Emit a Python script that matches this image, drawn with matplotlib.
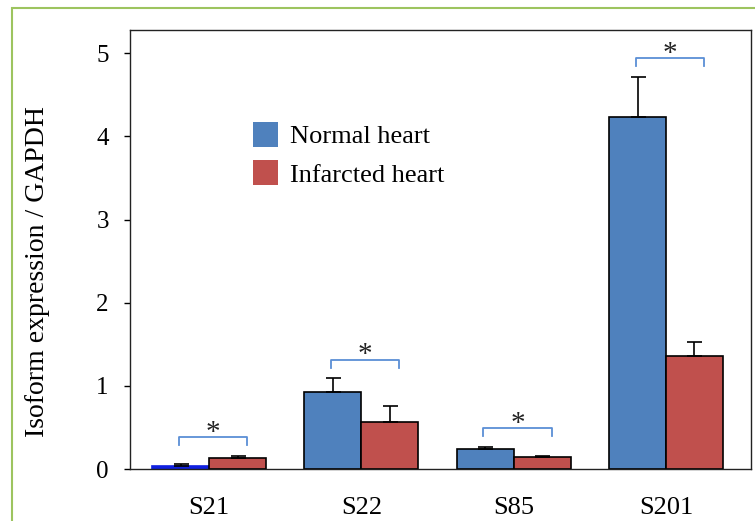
import matplotlib
matplotlib.use("Agg")
import matplotlib.pyplot as plt
import matplotlib.patches as mpatches
import numpy as np

plt.rcParams['font.family'] = ['Liberation Serif', 'DejaVu Serif']

# data
isoforms = ['S21', 'S22', 'S85', 'S201']
normal = [0.04, 0.93, 0.24, 4.23]
normal_err = [0.02, 0.16, 0.03, 0.49]
infarcted = [0.13, 0.56, 0.14, 1.36]
infarcted_err = [0.03, 0.20, 0.02, 0.17]
series_names = ['Normal heart', 'Infarcted heart']
yticks = [0, 1, 2, 3, 4, 5]

blue = '#4F81BD'
red = '#C0504D'
fs = 19

fig = plt.figure(figsize=(7.55, 5.21), dpi=100)
ax = fig.add_axes([130/755, 52/521, 621/755, 439/521])

x = np.arange(len(isoforms))
w = 0.374
ekw = dict(ecolor='black', elinewidth=1.2, capsize=5.4, capthick=1.2)
b1 = ax.bar(x - w/2, normal, w, color=blue, edgecolor='black', linewidth=1.2,
            yerr=[np.zeros(len(normal)), normal_err], error_kw=ekw, zorder=2)
b2 = ax.bar(x + w/2, infarcted, w, color=red, edgecolor='black', linewidth=1.2,
            yerr=[np.zeros(len(infarcted)), infarcted_err], error_kw=ekw, zorder=2)
# the tiny S21 normal bar shows up as a bright blue sliver
b1[0].set_edgecolor('#1020E0')
b1[0].set_facecolor('#1020E0')

# significance brackets
for i in range(len(isoforms)):
    top = max(normal[i] + normal_err[i], infarcted[i] + infarcted_err[i]) + 0.22
    xl, xr = x[i] - 0.2, x[i] + 0.25
    ax.plot([xl, xl, xr, xr], [top - 0.09, top, top, top - 0.09], color='#5B8FD6',
            linewidth=1.3, zorder=3, clip_on=False)
    ax.text((xl + xr) / 2, top - 0.1, '*', ha='center', va='bottom', fontsize=21,
            color='#222222')

ax.set_xlim(-0.519, 3.558)
ax.set_ylim(0, 5.28)
ax.set_yticks(yticks)
ax.set_xticks(x)
ax.set_xticklabels(isoforms, fontsize=fs)
ax.tick_params(axis='x', length=0, pad=20)
ax.tick_params(axis='y', direction='out', length=4.3, width=1.0, labelsize=18, pad=11)
for s in ax.spines.values():
    s.set_linewidth(1.0)
    s.set_color('#222222')

ax.set_ylabel('Isoform expression / GAPDH', fontsize=20)
ax.yaxis.set_label_coords(-0.129, 0.449)

handles = [mpatches.Patch(facecolor=blue, edgecolor='none'),
           mpatches.Patch(facecolor=red, edgecolor='none')]
ax.legend(handles, series_names, loc='upper left', bbox_to_anchor=(0.198, 0.79),
          frameon=False, fontsize=fs, handlelength=0.95, handleheight=1.05,
          labelspacing=0.45, handletextpad=0.45, borderpad=0, borderaxespad=0)

# green frame around the figure
fig.patches.append(mpatches.Rectangle((12/755, -0.02), 1.05, 1 - 8/521 + 0.02,
                                      transform=fig.transFigure, fill=False,
                                      edgecolor='#9DC45F', linewidth=1.5))

fig.savefig('out.png', dpi=100)
